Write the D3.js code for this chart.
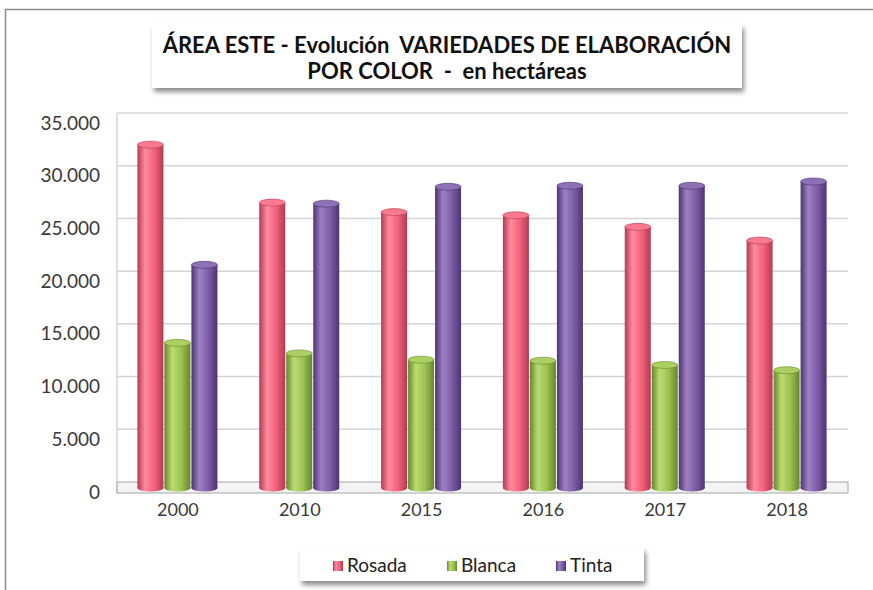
<!DOCTYPE html>
<html>
<head>
<meta charset="utf-8">
<script src="https://cdn.jsdelivr.net/npm/d3@7"></script>
<style>
  body { margin: 0; background: #fff; }
  text { font-family: Lato, "Open Sans", sans-serif; }
</style>
</head>
<body>
<div id="chart"></div>
<script>
var years = ["2000", "2010", "2015", "2016", "2017", "2018"];
var rosada = [32000, 26500, 25600, 25300, 24200, 22900];
var blanca = [13200, 12200, 11600, 11500, 11100, 10600];
var tinta = [20600, 26400, 28000, 28100, 28100, 28500];
var seriesNames = ["Rosada", "Blanca", "Tinta"];
var yTicks = [0, 5000, 10000, 15000, 20000, 25000, 30000, 35000];

var width = 873, height = 590;
var plot = {left: 117, right: 848, top: 113, floor: 482};

var svg = d3.select("#chart").append("svg")
    .attr("width", width)
    .attr("height", height);

var defs = svg.append("defs");

// cylinder shading per series
var shades = [
    {dark: "#b33a53", light: "#ff8b9e", base: "#f2627c", cap: "#f9798f"},
    {dark: "#66862b", light: "#bcdc72", base: "#9cc250", cap: "#acd061"},
    {dark: "#4c3470", light: "#9d80c4", base: "#7d5ea6", cap: "#8d70b6"}
];
shades.forEach(function(s, i) {
    var g = defs.append("linearGradient").attr("id", "grad" + i)
        .attr("x1", 0).attr("x2", 1).attr("y1", 0).attr("y2", 0);
    g.append("stop").attr("offset", "0%").attr("stop-color", s.dark);
    g.append("stop").attr("offset", "30%").attr("stop-color", s.light);
    g.append("stop").attr("offset", "65%").attr("stop-color", s.base);
    g.append("stop").attr("offset", "100%").attr("stop-color", s.dark);
});

var shadow = defs.append("filter").attr("id", "shadow")
    .attr("x", "-5%").attr("y", "-20%").attr("width", "115%").attr("height", "160%");
shadow.append("feDropShadow").attr("dx", 2).attr("dy", 4)
    .attr("stdDeviation", 2.5).attr("flood-color", "#000").attr("flood-opacity", 0.45);

// outer chart border
svg.append("path")
    .attr("d", "M5.5,590 L5.5,9.5 L873,9.5")
    .attr("fill", "none")
    .attr("stroke", "#8c8c8c")
    .attr("stroke-width", 1.5);

var x = d3.scaleBand().domain(years).range([plot.left, plot.right]);
var y = d3.scaleLinear().domain([0, 35000]).range([plot.floor, plot.top]);
var xs = d3.scaleBand().domain(seriesNames).range([0, 81]);

// gridlines
svg.append("g")
    .selectAll("line")
    .data(yTicks.slice(1))
    .join("line")
    .attr("x1", plot.left).attr("x2", plot.right)
    .attr("y1", d => y(d)).attr("y2", d => y(d))
    .attr("stroke", "#d4d4d4")
    .attr("stroke-width", 1.5);

// left wall
svg.append("line")
    .attr("x1", plot.left).attr("x2", plot.left)
    .attr("y1", plot.top).attr("y2", 493)
    .attr("stroke", "#d4d4d4").attr("stroke-width", 1.5);

// floor
svg.append("rect")
    .attr("x", plot.left).attr("y", plot.floor)
    .attr("width", plot.right - plot.left).attr("height", 11)
    .attr("fill", "#f4f4f4")
    .attr("stroke", "#a6a6a6")
    .attr("stroke-width", 1);

// y axis labels
var yAxis = d3.axisLeft(y).tickValues(yTicks).tickSize(0)
    .tickFormat(d => d3.format(",")(d).replace(/,/g, "."));
var yg = svg.append("g")
    .attr("transform", "translate(100,10)")
    .call(yAxis);
yg.select(".domain").remove();
yg.selectAll("text")
    .attr("x", 0)
    .style("font-size", "19px")
    .attr("fill", "#3a3a3a");

// x axis labels
var xAxis = d3.axisBottom(x).tickSize(0);
var xg = svg.append("g")
    .attr("transform", "translate(0,500)")
    .call(xAxis);
xg.select(".domain").remove();
xg.selectAll("text")
    .style("font-size", "18px")
    .attr("fill", "#3a3a3a");

// bars as cylinders
var seriesData = [rosada, blanca, tinta];
var baseY = 488;
var capH = 3.5;
seriesData.forEach(function(vals, si) {
    var g = svg.append("g");
    var items = years.map((yr, i) => ({year: yr, value: vals[i]}));
    var bw = xs.bandwidth() - 1;
    var bx = d => x(d.year) + x.bandwidth() / 2 - 40.5 + xs(seriesNames[si]);
    g.selectAll("ellipse.bottom")
        .data(items).join("ellipse")
        .attr("class", "bottom")
        .attr("cx", d => bx(d) + bw / 2)
        .attr("cy", baseY)
        .attr("rx", bw / 2).attr("ry", capH)
        .attr("fill", "url(#grad" + si + ")");
    g.selectAll("rect")
        .data(items).join("rect")
        .attr("x", bx)
        .attr("y", d => y(d.value))
        .attr("width", bw)
        .attr("height", d => baseY - y(d.value))
        .attr("fill", "url(#grad" + si + ")");
    g.selectAll("ellipse.top")
        .data(items).join("ellipse")
        .attr("class", "top")
        .attr("cx", d => bx(d) + bw / 2)
        .attr("cy", d => y(d.value))
        .attr("rx", bw / 2).attr("ry", capH)
        .attr("fill", shades[si].cap)
        .attr("stroke", shades[si].dark)
        .attr("stroke-width", 0.6);
});

// title box
var tg = svg.append("g");
tg.append("rect")
    .attr("x", 152).attr("y", 24)
    .attr("width", 590).attr("height", 64)
    .attr("fill", "#fff")
    .attr("filter", "url(#shadow)");
tg.append("text")
    .attr("x", 447).attr("y", 53)
    .attr("text-anchor", "middle")
    .style("font-size", "22px").style("font-weight", "bold")
    .attr("fill", "#111")
    .style("white-space", "pre")
    .text("ÁREA ESTE - Evolución  VARIEDADES DE ELABORACIÓN");
tg.append("text")
    .attr("x", 447).attr("y", 79)
    .attr("text-anchor", "middle")
    .style("font-size", "22px").style("font-weight", "bold")
    .attr("fill", "#111")
    .style("white-space", "pre")
    .text("POR COLOR  -  en hectáreas");

// legend
var lg = svg.append("g");
lg.append("rect")
    .attr("x", 300).attr("y", 548)
    .attr("width", 344).attr("height", 33)
    .attr("fill", "#fff")
    .attr("filter", "url(#shadow)");
var legendX = [333, 447, 556];
seriesNames.forEach(function(name, i) {
    lg.append("rect")
        .attr("x", legendX[i]).attr("y", 561)
        .attr("width", 10).attr("height", 10)
        .attr("fill", "url(#grad" + i + ")");
    lg.append("text")
        .attr("x", legendX[i] + 14).attr("y", 572)
        .style("font-size", "19px")
        .attr("fill", "#222")
        .text(name);
});
</script>
</body>
</html>
